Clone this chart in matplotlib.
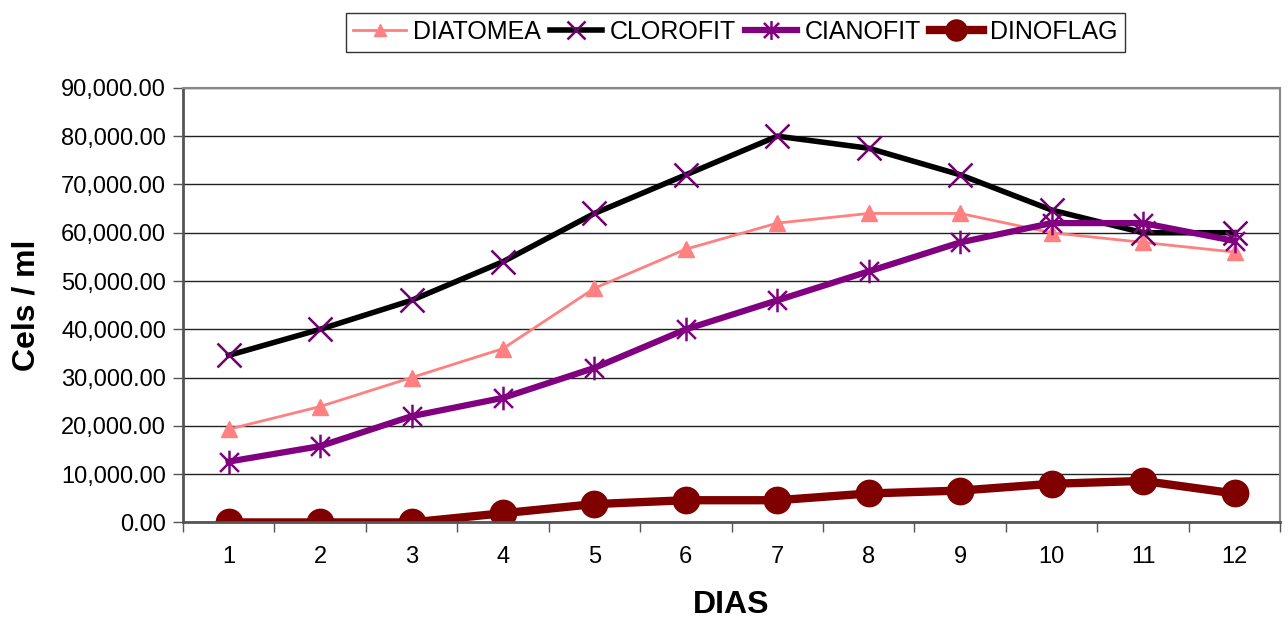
#!/usr/bin/env python3
import matplotlib
matplotlib.use("Agg")
import matplotlib.pyplot as plt
from matplotlib.path import Path
from matplotlib.ticker import FuncFormatter, MultipleLocator, FixedLocator

plt.rcParams['font.family'] = ['Liberation Sans', 'DejaVu Sans']

# cell counts per day for each group
DIAS = list(range(1, 13))
DIATOMEA = [19300, 24000, 30000, 36000, 48500, 56600, 62000, 64000, 64000, 60000, 58000, 56000]
CLOROFIT = [34600, 40000, 46000, 54000, 64000, 72000, 80000, 77500, 72000, 64700, 60000, 60000]
CIANOFIT = [12600, 15800, 22000, 25800, 32000, 40000, 46000, 52000, 58000, 62000, 62000, 58300]
DINOFLAG = [0, 0, 0, 1900, 3800, 4600, 4600, 6000, 6600, 8000, 8600, 6000]

# asterisk marker: vertical bar plus an x
asterisk = Path([(0, -1), (0, 1), (-0.8, -0.8), (0.8, 0.8), (-0.8, 0.8), (0.8, -0.8)],
                [Path.MOVETO, Path.LINETO, Path.MOVETO, Path.LINETO, Path.MOVETO, Path.LINETO])

fig = plt.figure(figsize=(12.88, 6.19), dpi=100)
ax = fig.add_axes([0.142, 0.156, 0.852, 0.702])

ax.plot(DIAS, DIATOMEA, color='#FF8080', lw=2, marker='^', ms=11, label='DIATOMEA')
ax.plot(DIAS, CLOROFIT, color='black', lw=4, marker='x', ms=17, mew=1.8,
        mec='#700070', label='CLOROFIT')
ax.plot(DIAS, CIANOFIT, color='#800080', lw=4.5, marker=asterisk, ms=17, mew=1.8,
        mec='#800080', label='CIANOFIT')
ax.plot(DIAS, DINOFLAG, color='#800000', lw=6, marker='o', ms=19, label='DINOFLAG')

ax.set_xlim(0.5, 12.5)
ax.set_ylim(0, 90000)
ax.yaxis.set_major_locator(MultipleLocator(10000))
ax.yaxis.set_major_formatter(FuncFormatter(lambda v, p: f"{v:,.2f}"))
ax.xaxis.set_major_locator(FixedLocator(DIAS))
ax.xaxis.set_minor_locator(FixedLocator([d + 0.5 for d in range(0, 13)]))
ax.tick_params(axis='x', which='major', length=0, pad=17, labelsize=17)
ax.tick_params(axis='x', which='minor', length=7, width=1, color='#555555')
ax.tick_params(axis='y', length=7, width=1, color='#555555', labelsize=17, pad=5)
ax.grid(axis='y', color='#222222', lw=1)
ax.set_axisbelow(True)

for side in ['left', 'bottom']:
    ax.spines[side].set_color('#555555')
    ax.spines[side].set_linewidth(2)
for side in ['top', 'right']:
    ax.spines[side].set_color('#888888')
    ax.spines[side].set_linewidth(1.5)

ax.set_xlabel('DIAS', fontsize=23, fontweight='bold', labelpad=16)
ax.set_ylabel('Cels / ml', fontsize=23, fontweight='bold', labelpad=14)

leg = fig.legend(loc='upper center', bbox_to_anchor=(0.571, 1.0), ncol=4, fontsize=18,
                 frameon=True, fancybox=False, edgecolor='black', handlelength=2.1,
                 columnspacing=0.35, handletextpad=0.3, borderpad=0.3, markerscale=0.8)
leg.get_frame().set_linewidth(1)

plt.savefig('out.png')
